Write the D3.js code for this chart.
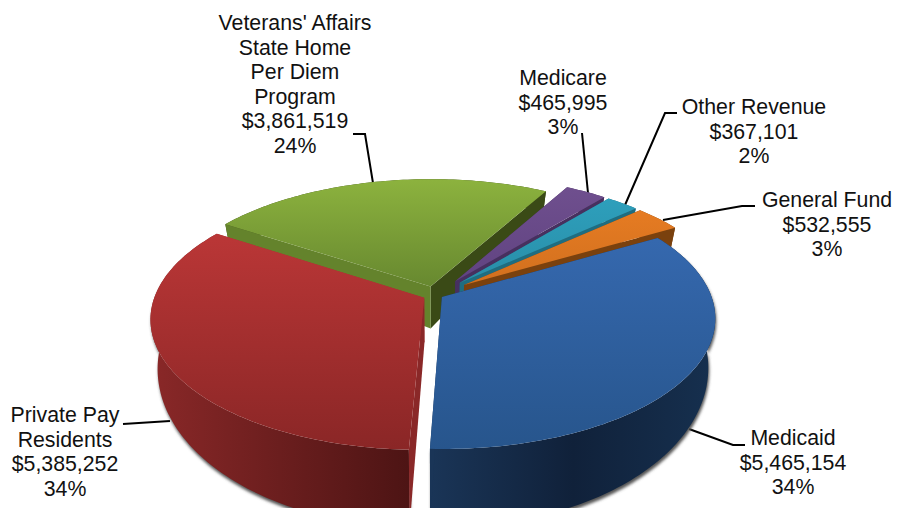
<!DOCTYPE html>
<html><head><meta charset="utf-8">
<script src="https://cdn.jsdelivr.net/npm/d3@7"></script>
<style>html,body{margin:0;padding:0;background:#fff;overflow:hidden}svg{display:block}
text{font-family:"Liberation Sans",Arial,sans-serif;font-size:21.3px;fill:#111}</style>
</head><body><svg id="c" width="897" height="508"></svg>
<script>
const categories=["Medicaid","Private Pay Residents","Veterans' Affairs State Home Per Diem Program","Medicare","Other Revenue","General Fund"];
const values=[5465154,5385252,3861519,465995,367101,532555];
const percents=["34%","34%","24%","3%","2%","3%"];
const labelLines=[["Medicaid"],["Private Pay","Residents"],["Veterans' Affairs","State Home","Per Diem","Program"],["Medicare"],["Other Revenue"],["General Fund"]];
const explode=[0.03,0.045,0.07,0.135,0.135,0.135];
const topFrom=["#3568ae","#b93636","#8cb23e","#70508f","#2fa3c0","#ee8024"];
const topTo=["#27558c","#8a2626","#66872f","#5f4280","#288ca6","#d06f1e"];
const wallFrom=["#1a3557","#8a2828","#3a4a16","#47305f","#1f6d80","#7a410e"];
const wallMid=["#10213a","#6b1e1e","#3a4a16","#47305f","#1f6d80","#7a410e"];
const wallTo=["#16304f","#4d1414","#3a4a16","#47305f","#1f6d80","#7a410e"];
const cutStart=["#1a3557","#a33030","#3a4a16","#47305f","#1f6d80","#7a410e"];
const cutEnd=["#1a3557","#8a2828","#64832c","#47305f","#1f6d80","#7a410e"];
const labelAnchors=[[793,439],[65,416],[295,24],[563,79],[754,108],[827,201]];
const leaders=[[[745,445],[733,445],[689,429]],[[123,424],[170,421]],[[353,134],[365,134],[373,183]],[[582,133],[588,193]],[[677,113],[665,113],[625,205]],[[755,206],[742,206],[663,220]]];

const cx=435,cy=295,K=269,KQ=127,P=0.16,KB=0.975*K,KQB=KQ+21,T=44;
const svg=d3.select("#c");
const defs=svg.append("defs");
const f=defs.append("filter").attr("id","sh").attr("x","-10%").attr("y","-10%").attr("width","120%").attr("height","120%");
f.append("feGaussianBlur").attr("stdDeviation",1.6);

const pie=d3.pie().sort(null).startAngle(60*Math.PI/180).endAngle((60+360)*Math.PI/180);
const arcs=pie(values);
const ex=arcs.map((a,i)=>{const m=(a.startAngle+a.endAngle)/2;return [Math.sin(m)*explode[i],Math.cos(m)*explode[i]];});
function proj(u,v,bottom){
  const d=1+P*v;
  return bottom?[cx+KB*u/d,cy+(T-KQB*v)/d]:[cx+K*u/d,cy-KQ*v/d];
}
const line=d3.line();
function ring(a,i,bottom){
  const n=Math.max(4,Math.ceil((a.endAngle-a.startAngle)/0.02));
  return d3.range(n+1).map(j=>{
    const t=a.startAngle+(a.endAngle-a.startAngle)*j/n;
    return proj(ex[i][0]+Math.sin(t),ex[i][1]+Math.cos(t),bottom);
  });
}
arcs.forEach((a,i)=>{
  const big=i<2;
  const g=defs.append("linearGradient").attr("id","t"+i).attr("gradientUnits","userSpaceOnUse").attr("x1",0).attr("x2",0).attr("y1",big?240:180).attr("y2",big?450:290);
  g.append("stop").attr("offset",0).attr("stop-color",topFrom[i]);
  g.append("stop").attr("offset",1).attr("stop-color",topTo[i]);
  const w=defs.append("linearGradient").attr("id","w"+i).attr("gradientUnits","userSpaceOnUse");
  const xs=d3.extent(ring(a,i,false),p=>p[0]);
  w.attr("x1",xs[0]).attr("x2",xs[1]).attr("y1",0).attr("y2",0);
  w.append("stop").attr("offset",0).attr("stop-color",wallFrom[i]);
  w.append("stop").attr("offset",.5).attr("stop-color",wallMid[i]);
  w.append("stop").attr("offset",1).attr("stop-color",wallTo[i]);
});
svg.append("g").selectAll("path").data(leaders).join("path")
  .attr("d",d=>line(d)).attr("fill","none").attr("stroke","#000").attr("stroke-width",2);

// far-to-near draw order
[2,3,4,5,1,0].forEach(i=>{
  const a=arcs[i],g=svg.append("g");
  const top=ring(a,i,false),bot=ring(a,i,true);
  const A=proj(ex[i][0],ex[i][1],false),B=proj(ex[i][0],ex[i][1],true);
  const hull=[...top,...bot.slice().reverse()];
  if(i<2) g.append("path").attr("d",line(hull)+"Z").attr("transform","translate(1,3)").attr("fill","#555").attr("filter","url(#sh)");
  const s=top[0],e=top[top.length-1],sb=bot[0],eb=bot[bot.length-1];
  g.append("path").attr("d",line(hull)+"Z").attr("fill",`url(#w${i})`);
  g.append("path").attr("d",line([A,e,eb,B])+"Z").attr("fill",cutStart[i]);
  g.append("path").attr("d",line([A,s,sb,B])+"Z").attr("fill",cutEnd[i]);
  g.append("path").attr("d",line([A,...top])+"Z").attr("fill",`url(#t${i})`);
});
const labels=svg.append("g");
arcs.forEach((a,i)=>{
  const lines=[...labelLines[i],"$"+d3.format(",")(values[i]),percents[i]];
  const t=labels.append("text").attr("text-anchor","middle").attr("x",labelAnchors[i][0]).attr("y",labelAnchors[i][1]+6);
  lines.forEach((s,j)=>t.append("tspan").attr("x",labelAnchors[i][0]).attr("dy",j?24.6:0).text(s));
});
</script></body></html>
